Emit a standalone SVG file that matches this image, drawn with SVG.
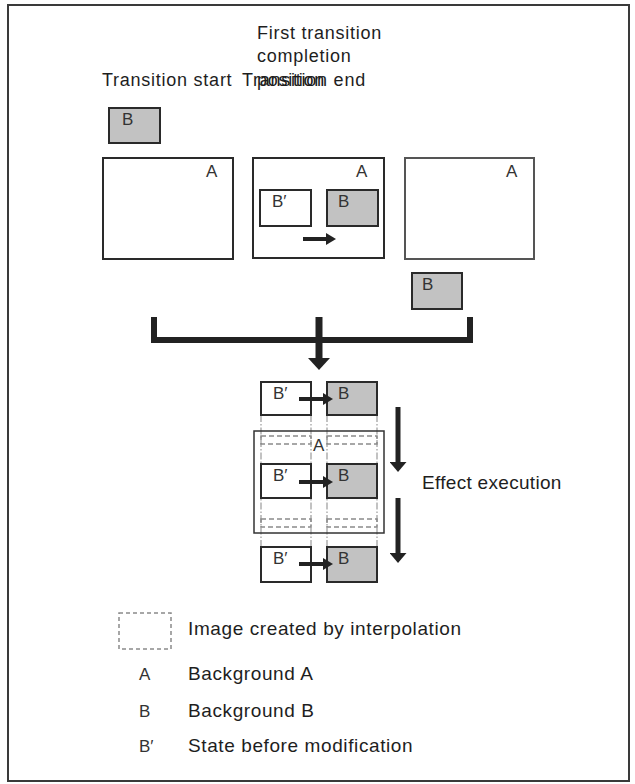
<svg xmlns="http://www.w3.org/2000/svg" width="635" height="784" viewBox="0 0 635 784">
<style>
  .t { font-family: "Liberation Sans", Arial, sans-serif; fill: #1e1e1e; }
  .top { font-size: 18px; letter-spacing: 0.75px; }
  .lbl { font-size: 17px; fill: #333; }
  .leg { font-size: 19px; letter-spacing: 0.6px; }
  .box { fill: #ffffff; stroke: #2a2a2a; stroke-width: 2; }
  .boxg { fill: #c2c2c2; stroke: #2a2a2a; stroke-width: 2; }
  .frame { fill: #ffffff; stroke: #3a3a3a; stroke-width: 2; }
  .dash { fill: none; stroke: #8a8a8a; stroke-width: 1.5; stroke-dasharray: 5 3; }
  .dashdot { fill: none; stroke: #9a9a9a; stroke-width: 1.2; stroke-dasharray: 7 2 1.5 2; }
  .thick { fill: none; stroke: #222; stroke-linecap: butt; }
</style>
<defs>
  <marker id="ah" viewBox="0 0 10 10" refX="0" refY="5" markerWidth="10" markerHeight="12" markerUnits="userSpaceOnUse" orient="auto" preserveAspectRatio="none">
    <path d="M0,0 L10,5 L0,10 Z" fill="#222"/>
  </marker>
  <marker id="ahBig" viewBox="0 0 10 10" refX="0" refY="5" markerWidth="12" markerHeight="22" markerUnits="userSpaceOnUse" orient="auto" preserveAspectRatio="none">
    <path d="M0,0 L10,5 L0,10 Z" fill="#222"/>
  </marker>
  <marker id="ahMid" viewBox="0 0 10 10" refX="0" refY="5" markerWidth="10" markerHeight="17" markerUnits="userSpaceOnUse" orient="auto" preserveAspectRatio="none">
    <path d="M0,0 L10,5 L0,10 Z" fill="#222"/>
  </marker>
</defs>

<rect class="frame" x="8" y="5" width="621" height="776"/>

<g id="labels">
  <text class="t top" x="257" y="39">First transition</text>
  <text class="t top" x="257" y="62">completion</text>
  <text class="t top" x="257" y="86">position</text>
  <text class="t top" x="102" y="86">Transition start</text>
  <text class="t top" x="242" y="86">Transition end</text>
</g>

<g id="start-B">
  <rect class="boxg" x="109" y="108" width="51" height="35"/>
  <text class="t lbl" x="122" y="125">B</text>
</g>

<g id="frame-start">
  <rect class="box" x="103" y="158" width="130" height="101"/>
  <text class="t lbl" x="206" y="177">A</text>
</g>

<g id="frame-mid">
  <rect class="box" x="253" y="158" width="131" height="100"/>
  <text class="t lbl" x="356" y="177">A</text>
  <rect class="box" x="260" y="190" width="51" height="36"/>
  <text class="t lbl" x="272" y="207">B′</text>
  <rect class="boxg" x="327" y="190" width="51" height="36"/>
  <text class="t lbl" x="338" y="207">B</text>
</g>

<g id="frame-end">
  <rect class="box" x="405" y="158" width="129" height="101" style="stroke:#555"/>
  <text class="t lbl" x="506" y="177">A</text>
</g>

<g id="end-B">
  <rect class="boxg" x="412" y="273" width="50" height="36"/>
  <text class="t lbl" x="422" y="290">B</text>
</g>

<g id="effect">
  <line class="dashdot" x1="261" y1="415" x2="261" y2="547"/>
  <line class="dashdot" x1="311" y1="415" x2="311" y2="547"/>
  <line class="dashdot" x1="327" y1="415" x2="327" y2="547"/>
  <line class="dashdot" x1="377" y1="415" x2="377" y2="547"/>
  <rect x="254" y="431" width="130" height="102" fill="none" stroke="#333" stroke-width="1.5"/>
  <rect class="dash" x="261" y="436" width="50" height="8"/>
  <rect class="dash" x="327" y="436" width="50" height="8"/>
  <rect class="dash" x="261" y="519" width="50" height="8"/>
  <rect class="dash" x="327" y="519" width="50" height="8"/>
  <text class="t lbl" x="313" y="451">A</text>

  <rect class="box" x="261" y="382" width="50" height="33"/>
  <text class="t lbl" x="273" y="399">B′</text>
  <rect class="boxg" x="327" y="382" width="50" height="33"/>
  <text class="t lbl" x="338" y="399">B</text>

  <rect class="box" x="261" y="464" width="50" height="34"/>
  <text class="t lbl" x="273" y="481">B′</text>
  <rect class="boxg" x="327" y="464" width="50" height="34"/>
  <text class="t lbl" x="338" y="481">B</text>

  <rect class="box" x="261" y="547" width="50" height="35"/>
  <text class="t lbl" x="273" y="564">B′</text>
  <rect class="boxg" x="327" y="547" width="50" height="35"/>
  <text class="t lbl" x="338" y="564">B</text>

  <text class="t leg" x="422" y="489" style="letter-spacing:0.3px">Effect execution</text>
</g>

<g id="legend">
  <rect x="119" y="613" width="52" height="36" fill="none" stroke="#8a8a8a" stroke-width="1.5" stroke-dasharray="4 3"/>
  <text class="t leg" x="188" y="635">Image created by interpolation</text>
  <text class="t lbl" x="139" y="680">A</text>
  <text class="t leg" x="188" y="680">Background A</text>
  <text class="t lbl" x="139" y="717">B</text>
  <text class="t leg" x="188" y="717">Background B</text>
  <text class="t lbl" x="139" y="752">B′</text>
  <text class="t leg" x="188" y="752">State before modification</text>
</g>

<g id="connectors">
  <line class="thick" x1="303" y1="239" x2="326" y2="239" stroke-width="4" marker-end="url(#ah)"/>
  <path class="thick" d="M154,317 V340 H470 V317" stroke-width="6"/>
  <line class="thick" x1="319" y1="317" x2="319" y2="358" stroke-width="7" marker-end="url(#ahBig)"/>
  <line class="thick" x1="299" y1="399" x2="323" y2="399" stroke-width="4" marker-end="url(#ah)"/>
  <line class="thick" x1="299" y1="482" x2="323" y2="482" stroke-width="4" marker-end="url(#ah)"/>
  <line class="thick" x1="299" y1="564" x2="323" y2="564" stroke-width="4" marker-end="url(#ah)"/>
  <line class="thick" x1="398" y1="407" x2="398" y2="462" stroke-width="5" marker-end="url(#ahMid)"/>
  <line class="thick" x1="398" y1="498" x2="398" y2="553" stroke-width="5" marker-end="url(#ahMid)"/>
</g>
</svg>
